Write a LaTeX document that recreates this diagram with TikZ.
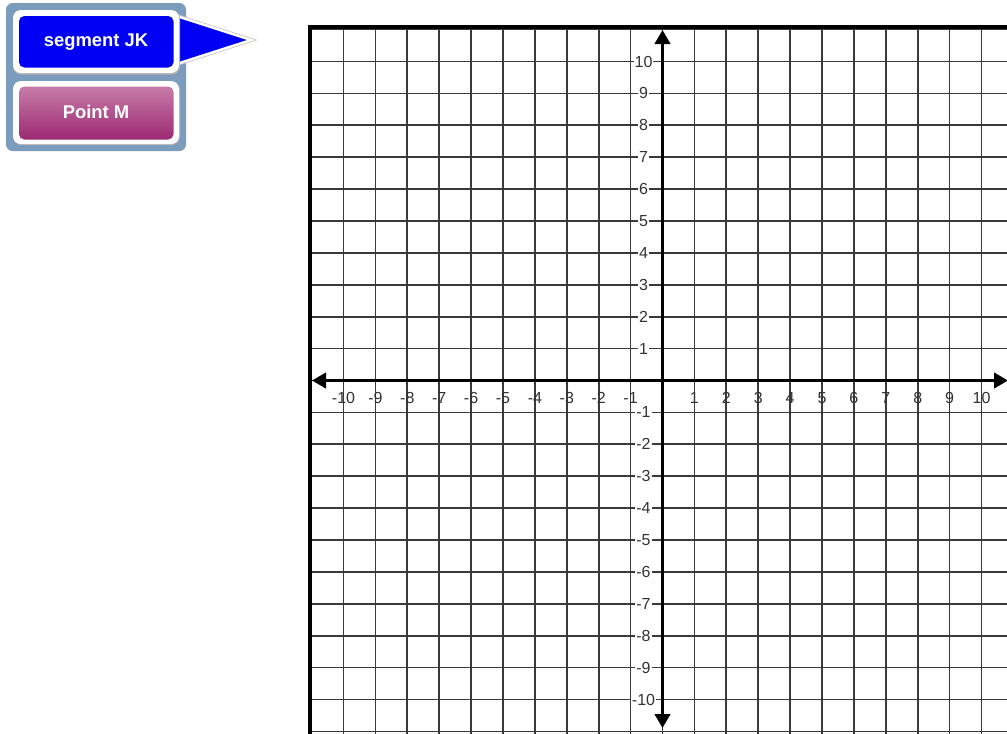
\documentclass[tikz,border=0pt]{standalone}
\usepackage{fontspec}
\setmainfont{Liberation Sans}
\usetikzlibrary{arrows.meta}
\definecolor{panelblue}{HTML}{7C9CBE}
\definecolor{btnblue}{HTML}{0000F4}
\definecolor{ptop}{HTML}{C77BA8}
\definecolor{pbot}{HTML}{9C2A72}
\definecolor{gridc}{HTML}{3A3A3A}
\definecolor{labc}{HTML}{333333}
\tikzset{
  gridline/.style={draw=gridc, line width=1.3pt},
  axisline/.style={draw=black, line width=2.4pt, -{Triangle[length=10.5pt,width=11.5pt]}},
  xlab/.style={text=labc, font=\fontsize{12}{13}\selectfont, inner sep=0.5pt},
  ylab/.style={text=labc, font=\fontsize{12}{13}\selectfont, inner sep=0.8pt, fill=white},
  btntext/.style={text=white, font=\bfseries\fontsize{13.8}{15}\selectfont},
}
\begin{document}
\begin{tikzpicture}[x=0.75pt,y=-0.75pt]
\useasboundingbox (0,0) rectangle (1007,733);
\fill[white] (0,0) rectangle (1007,733);
% ---- panel ----
\fill[panelblue, rounded corners=5pt] (6,3) rectangle (186,151);
% triangle pointer
\coordinate (tA) at (178,16.5);
\coordinate (tB) at (251,40);
\coordinate (tC) at (178,63.5);
\draw[black!22, line width=3pt, line join=miter] (tA) -- (tB) -- (tC);
\fill[btnblue, draw=white, line width=1.8pt, line join=miter] (tA) -- (tB) -- (tC) -- cycle;
% button 1
\fill[black!30, rounded corners=6pt] (13,10.5) rectangle (180,74.5);
\fill[white, rounded corners=6pt] (13,10) rectangle (179,73);
\fill[btnblue, rounded corners=4pt] (19,16) rectangle (173.5,67.5);
\node[btntext] (b1) at (96,42) {segment JK};
% button 2
\fill[black!30, rounded corners=6pt] (13,81.5) rectangle (180,145);
\fill[white, rounded corners=6pt] (13,81) rectangle (179,144);
\shade[top color=ptop, bottom color=pbot, rounded corners=4pt] (19,86.5) rectangle (173.5,139.5);
\node[btntext] (b2) at (96,112) {Point M};
% ---- grid ----
\begin{scope}
\clip (300,0) rectangle (1007,733);
\foreach \i in {-11,...,11}{
  \draw[gridline] ({662.5+31.9*\i},27) -- ({662.5+31.9*\i},740);
  \draw[gridline] (310,{380.5+31.9*\i}) -- (1020,{380.5+31.9*\i});
}
% border
\draw[black, line width=2.4pt] (310,740) -- (310,27) -- (1020,27);
\end{scope}
% axes
\coordinate (xL) at (312,380.5);
\coordinate (xR) at (1008,380.5);
\coordinate (yT) at (662.5,30);
\coordinate (yB) at (662.5,728);
\coordinate (O) at (662.5,380.5);
\draw[axisline] (O) -- (xL);
\draw[axisline] (O) -- (xR);
\draw[axisline] (O) -- (yT);
\draw[axisline] (O) -- (yB);
% labels
\foreach \i in {-10,...,-1,1,2,...,10}{
  \node[xlab] (xl\i) at ({662.5+31.9*\i},398) {\i};
}
\foreach \i in {-10,...,-1,1,2,...,10}{
  \node[ylab] (yl\i) at (643.5,{380.5-31.9*\i}) {\i};
}
\end{tikzpicture}
\end{document}
